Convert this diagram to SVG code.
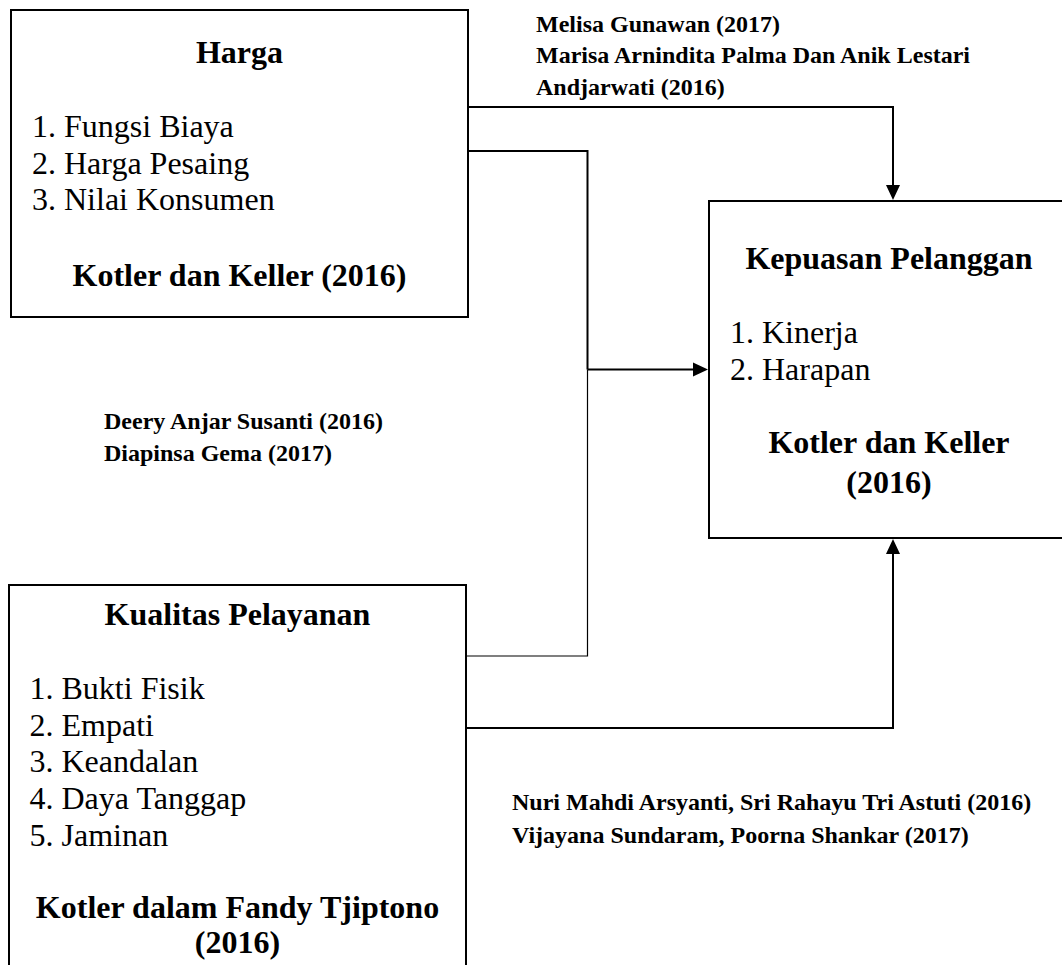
<svg xmlns="http://www.w3.org/2000/svg" width="1062" height="965" viewBox="0 0 1062 965">
<style>
.box{fill:#fff;stroke:#000;stroke-width:2}
.t{font-family:"Liberation Serif","Times New Roman",serif;fill:#000}
.big{font-size:32px}
.b{font-weight:bold}
.sm{font-size:24px;font-weight:bold}
.mid{text-anchor:middle}
.ln{fill:none;stroke:#000;stroke-width:2}
.thin{fill:none;stroke:#000;stroke-width:1.2}
</style>
<defs>
<marker id="arr" markerUnits="userSpaceOnUse" markerWidth="15" markerHeight="15" refX="9" refY="7" orient="auto" viewBox="0 0 15 14">
<path d="M0,0 L15,7 L0,14 Z" fill="#000"/>
</marker>
</defs>
<rect x="0" y="0" width="1062" height="965" fill="#fff"/>
<g id="connectors">
<path class="ln" d="M468,107 H893 V194" marker-end="url(#arr)"/>
<path class="ln" d="M468,151 H587.5 V369.5"/>
<path class="thin" d="M467,656 H587.5 V369.5"/>
<path class="ln" d="M587.5,369.5 H702" marker-end="url(#arr)"/>
<path class="ln" d="M466,728 H893 V545" marker-end="url(#arr)"/>
</g>
<g id="harga">
<rect class="box" x="11" y="10" width="457" height="307"/>
<text class="t big b mid" x="239.5" y="63">Harga</text>
<text class="t big" x="32" y="137">1. Fungsi Biaya</text>
<text class="t big" x="32" y="173.5">2. Harga Pesaing</text>
<text class="t big" x="32" y="210">3. Nilai Konsumen</text>
<text class="t big b mid" x="239.5" y="286">Kotler dan Keller (2016)</text>
</g>
<g id="kepuasan">
<rect class="box" x="709" y="201" width="362" height="337"/>
<text class="t big b mid" x="889" y="269">Kepuasan Pelanggan</text>
<text class="t big" x="730" y="343">1. Kinerja</text>
<text class="t big" x="730" y="380">2. Harapan</text>
<text class="t big b mid" x="889" y="453">Kotler dan Keller</text>
<text class="t big b mid" x="889" y="493">(2016)</text>
</g>
<g id="kualitas">
<rect class="box" x="9" y="585" width="457" height="400"/>
<text class="t big b mid" x="237.5" y="625">Kualitas Pelayanan</text>
<text class="t big" x="29.5" y="698.5">1. Bukti Fisik</text>
<text class="t big" x="29.5" y="735.5">2. Empati</text>
<text class="t big" x="29.5" y="772">3. Keandalan</text>
<text class="t big" x="29.5" y="809">4. Daya Tanggap</text>
<text class="t big" x="29.5" y="845.5">5. Jaminan</text>
<text class="t big b mid" x="237.5" y="918">Kotler dalam Fandy Tjiptono</text>
<text class="t big b mid" x="237.5" y="953">(2016)</text>
</g>
<g id="label-harga-kepuasan">
<text class="t sm" x="536" y="32">Melisa Gunawan (2017)</text>
<text class="t sm" x="536" y="63">Marisa Arnindita Palma Dan Anik Lestari</text>
<text class="t sm" x="536" y="95">Andjarwati (2016)</text>
</g>
<g id="label-simultan">
<text class="t sm" x="104" y="429">Deery Anjar Susanti (2016)</text>
<text class="t sm" x="104" y="461">Diapinsa Gema (2017)</text>
</g>
<g id="label-kualitas-kepuasan">
<text class="t sm" x="512" y="810">Nuri Mahdi Arsyanti, Sri Rahayu Tri Astuti (2016)</text>
<text class="t sm" x="512" y="843">Vijayana Sundaram, Poorna Shankar (2017)</text>
</g>
</svg>
